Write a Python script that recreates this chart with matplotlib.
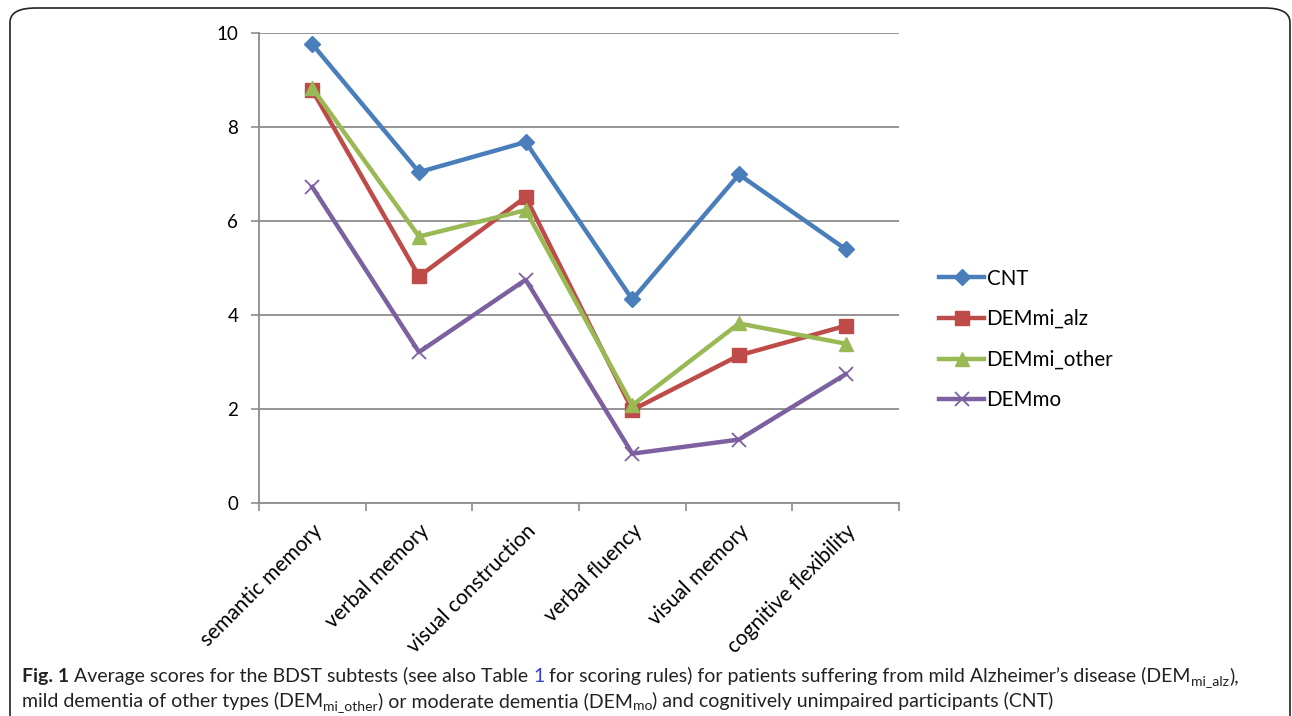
import matplotlib
matplotlib.use("Agg")
import matplotlib.pyplot as plt
from matplotlib import font_manager
from matplotlib.patches import FancyBboxPatch

categories = ["semantic memory", "verbal memory", "visual construction",
              "verbal fluency", "visual memory", "cognitive flexibility"]
cnt = [9.76, 7.04, 7.68, 4.33, 6.99, 5.40]
dem_mi_alz = [8.78, 4.82, 6.51, 1.98, 3.14, 3.77]
dem_mi_other = [8.83, 5.67, 6.23, 2.08, 3.82, 3.39]
dem_mo = [6.72, 3.21, 4.75, 1.05, 1.35, 2.74]
series_names = ["CNT", "DEMmi_alz", "DEMmi_other", "DEMmo"]
y_ticks = [0, 2, 4, 6, 8, 10]

available = {f.name for f in font_manager.fontManager.ttflist}
chart_font = "Lato" if "Lato" in available else "DejaVu Sans"
caption_font = chart_font

W, H = 1292, 716
fig = plt.figure(figsize=(W / 100, H / 100), dpi=100)

# rounded frame around the whole figure panel
frame = FancyBboxPatch((10 / W, 1 - 740 / H), 1280 / W, 732 / H,
                       boxstyle="round,pad=0,rounding_size=0.02",
                       transform=fig.transFigure, fill=False,
                       edgecolor="#222222", linewidth=1.2, clip_on=False)
fig.patches.append(frame)

ax = fig.add_axes([259 / W, 1 - 503 / H, 640 / W, 470 / H])

styles = [
    dict(color="#4A7EBB", marker="D", markersize=8.5),
    dict(color="#BE4B48", marker="s", markersize=9.5),
    dict(color="#98B954", marker="^", markersize=10.5),
    dict(color="#7D60A0", marker="x", markersize=10, markeredgewidth=1.3),
]
x = list(range(len(categories)))
for name, vals, st in zip(series_names, [cnt, dem_mi_alz, dem_mi_other, dem_mo], styles):
    ax.plot(x, vals, linewidth=3.2, label=name, zorder=3, **st)

ax.set_xlim(-0.5, len(categories) - 0.5)
ax.set_ylim(0, 10)
ax.set_yticks(y_ticks)
ax.set_yticklabels([str(v) for v in y_ticks], fontsize=13.5, family=chart_font)
ax.grid(axis="y", color="#8C8C8C", linewidth=1.3)
ax.set_axisbelow(True)

# category boundaries carry the tick marks, labels sit at the centres
ax.set_xticks([i - 0.5 for i in range(len(categories) + 1)])
ax.set_xticklabels([])
ax.set_xticks(x, minor=True)
ax.set_xticklabels(categories, minor=True, rotation=45, ha="right",
                   rotation_mode="anchor", fontsize=15, family=chart_font)
ax.tick_params(axis="x", which="minor", length=0, pad=13)
ax.tick_params(axis="x", which="major", length=6, color="#8C8C8C", width=1.2)
ax.tick_params(axis="y", length=6, color="#8C8C8C", width=1.2, pad=9)

for side in ["top", "right"]:
    ax.spines[side].set_visible(False)
for side in ["left", "bottom"]:
    ax.spines[side].set_color("#8C8C8C")
    ax.spines[side].set_linewidth(1.3)

leg = ax.legend(loc="center left", bbox_to_anchor=(1.05, 0.348), frameon=False,
                prop={"family": chart_font, "size": 14.8}, handlelength=2.2,
                handletextpad=0.1, labelspacing=1.0, borderaxespad=0)

# caption, composed of separately styled pieces
fig.canvas.draw()
renderer = fig.canvas.get_renderer()
cap_size = 14.0


def write_line(pieces, x0, y0):
    xp = x0
    for text, kind in pieces:
        kw = dict(family=caption_font, fontsize=cap_size, color="#222222",
                  va="baseline", ha="left")
        yy = y0
        if kind == "bold":
            kw["weight"] = "bold"
        elif kind == "link":
            kw["color"] = "#3B3BD6"
        elif kind == "sub":
            kw["fontsize"] = cap_size * 0.72
            yy = y0 + 3
        t = fig.text(xp / W, 1 - yy / H, text, **kw)
        bb = t.get_window_extent(renderer)
        xp += bb.width


write_line([("Fig. 1", "bold"),
            (" Average scores for the BDST subtests (see also Table ", "n"),
            ("1", "link"),
            (" for scoring rules) for patients suffering from mild Alzheimer\u2019s disease (DEM", "n"),
            ("mi_alz", "sub"), ("),", "n")], 22, 682)
write_line([("mild dementia of other types (DEM", "n"), ("mi_other", "sub"),
            (") or moderate dementia (DEM", "n"), ("mo", "sub"),
            (") and cognitively unimpaired participants (CNT)", "n")], 22, 707)

fig.savefig("out.png", dpi=100)
